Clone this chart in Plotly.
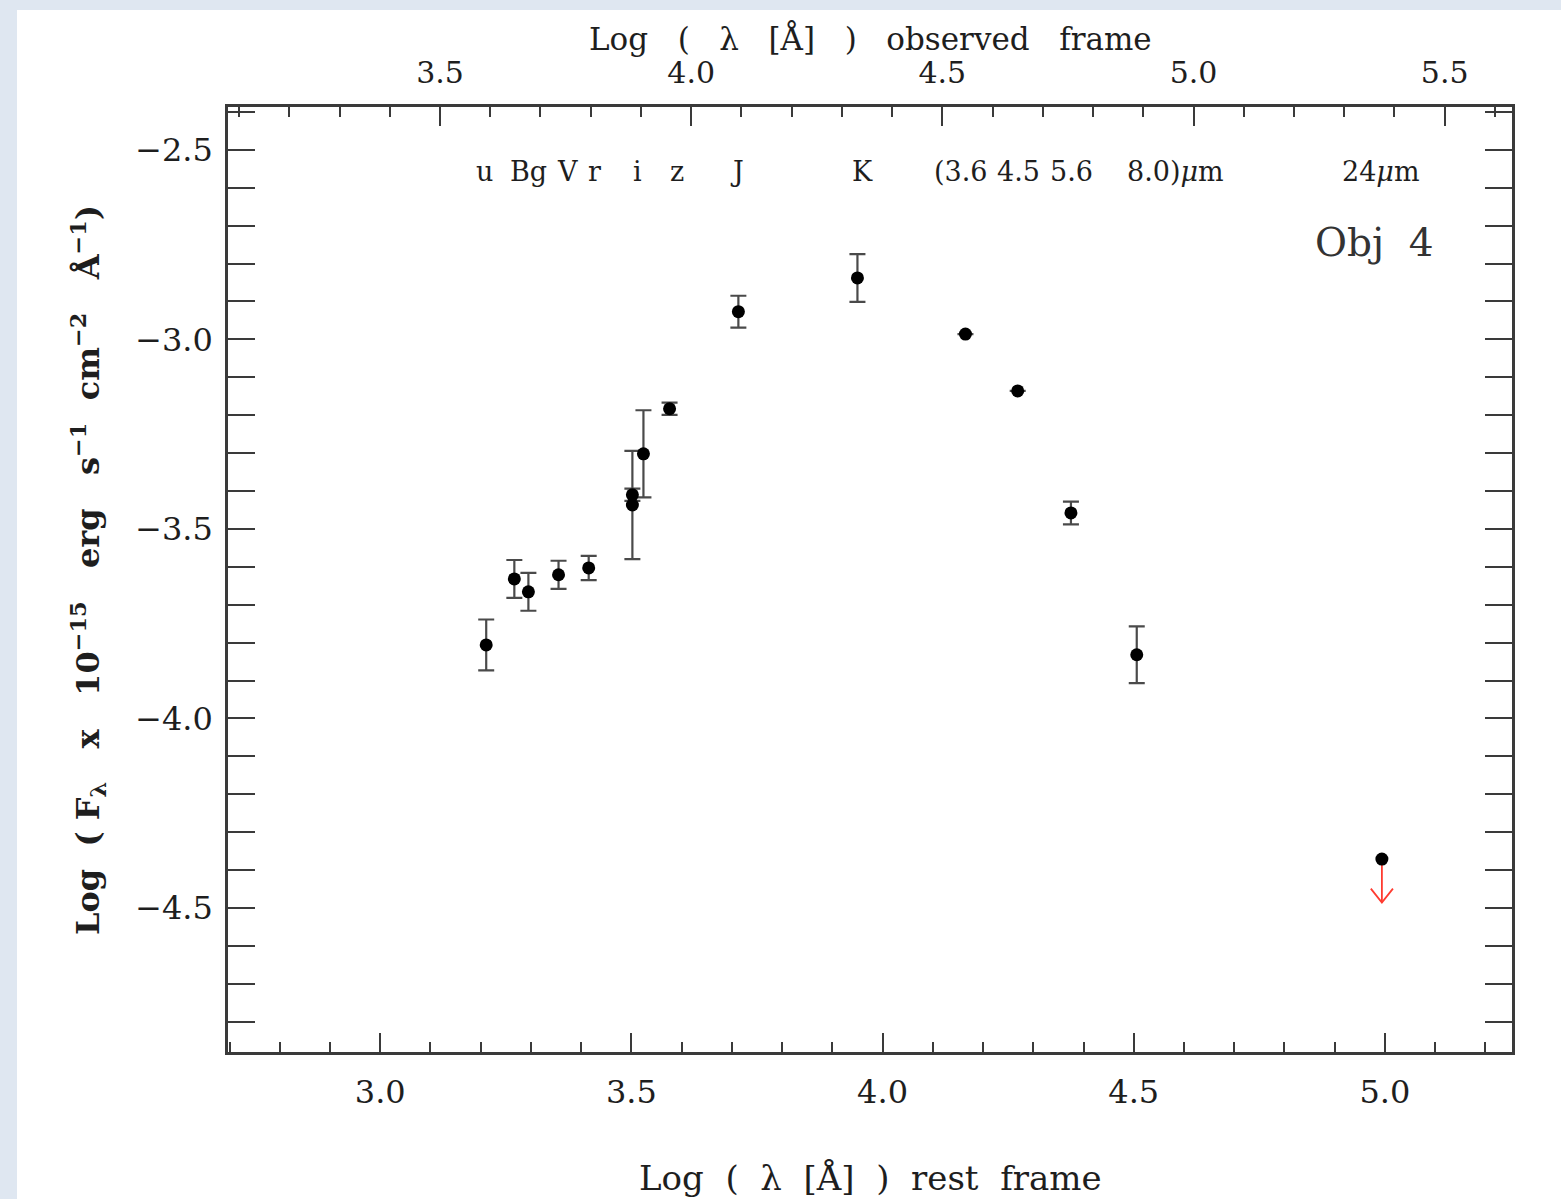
import plotly.graph_objects as go

# ---------------- data ----------------
log_lam_rest = [3.211, 3.267, 3.295, 3.355, 3.415, 3.502, 3.502, 3.524, 3.576,
                3.713, 3.950, 4.165, 4.269, 4.375, 4.506]
log_flux = [-3.806, -3.632, -3.666, -3.621, -3.603, -3.410, -3.437, -3.302, -3.183,
            -2.927, -2.838, -2.986, -3.136, -3.458, -3.832]
log_flux_err = [0.067, 0.050, 0.050, 0.037, 0.032, 0.016, 0.143, 0.115, 0.016,
                0.042, 0.063, 0.0, 0.0, 0.030, 0.075]

# 24 micron upper limit
ul_x = [4.994]
ul_y = [-4.371]
ul_len = 0.115          # length of the limit arrow (dex)

band_names = ["u", "Bg", "V", "r", "i", "z", "J", "K",
              "(3.6", "4.5", "5.6", "8.0)<i>μ</i>m", "24<i>μ</i>m"]
band_pos = [3.207, 3.295, 3.373, 3.426, 3.512, 3.590, 3.711, 3.960,
            4.155, 4.270, 4.376, 4.584, 4.992]

obs_offset = 0.381      # log10(1+z)
x_range = [2.697, 5.253]
y_range = [-4.880, -2.387]
object_label = "Obj  4"

# ---------------- figure ----------------
FONT = "DejaVu Serif"
INK = "#1e1e1e"
AX = "#3a3a3a"
nb = "\u00a0"

fig = go.Figure()

fig.add_trace(go.Scatter(
    x=log_lam_rest, y=log_flux, mode="markers",
    marker=dict(color="#000000", size=13, line=dict(width=0)),
    error_y=dict(type="data", array=log_flux_err, symmetric=True,
                 color="#4a4a4a", thickness=2.2, width=8),
    showlegend=False, hoverinfo="x+y"))

# invisible trace to anchor the observed-frame axis
fig.add_trace(go.Scatter(
    x=[v + obs_offset for v in log_lam_rest], y=log_flux, xaxis="x2",
    mode="markers", marker=dict(opacity=0), showlegend=False, hoverinfo="skip"))

# upper limit: arrow computed from the data value
head = [y - ul_len for y in ul_y]
arm_dx, arm_dy = 0.022, 0.037
arrow_x, arrow_y = [], []
for x0, y0, yh in zip(ul_x, ul_y, head):
    arrow_x += [x0, x0, None, x0 - arm_dx, x0, x0 + arm_dx, None]
    arrow_y += [y0, yh, None, yh + arm_dy, yh, yh + arm_dy, None]
fig.add_trace(go.Scatter(x=arrow_x, y=arrow_y, mode="lines",
                         line=dict(color="#ff3b30", width=1.8),
                         showlegend=False, hoverinfo="skip"))
fig.add_trace(go.Scatter(x=ul_x, y=ul_y, mode="markers",
                         marker=dict(color="#000000", size=13),
                         showlegend=False, hoverinfo="x+y"))

# band labels
for name, xp in zip(band_names, band_pos):
    fig.add_annotation(x=xp, y=-2.558, xref="x", yref="y", text=name,
                       showarrow=False, xanchor="center", yanchor="middle",
                       font=dict(family=FONT, size=27, color=INK))

fig.add_annotation(x=0.893, y=0.857, xref="paper", yref="paper",
                   text=object_label.replace(" ", nb),
                   showarrow=False, xanchor="center", yanchor="middle",
                   font=dict(family=FONT, size=39, color="#333333"))

# axis titles
def spaced(s, n=2):
    return s.replace(" ", nb * n)

fig.add_annotation(x=0.5, y=(1052 - 1178) / 945, xref="paper", yref="paper",
                   text=spaced("Log ( λ [Å] ) rest frame"), showarrow=False,
                   xanchor="center", yanchor="middle",
                   font=dict(family=FONT, size=34, color=INK))
fig.add_annotation(x=0.5, y=(1052 - 38) / 945, xref="paper", yref="paper",
                   text=spaced("Log ( λ [Å] ) observed frame", 3), showarrow=False,
                   xanchor="center", yanchor="middle",
                   font=dict(family=FONT, size=31, color=INK))
sp = nb * 3
ytitle = (f"<b>Log{nb}{nb}( F<sub>λ</sub>{sp}x{sp}10<sup>−15</sup>{sp}erg{sp}"
          f"s<sup>−1</sup>{nb}{nb}cm<sup>−2</sup>{sp}Å<sup>−1</sup>)</b>")
fig.add_annotation(x=(88 - 228) / 1284, y=(1052 - 570) / 945, xref="paper", yref="paper",
                   text=ytitle, showarrow=False, textangle=-90,
                   xanchor="center", yanchor="middle",
                   font=dict(family=FONT, size=32, color=INK))

# background: light blue page with white panel
fig.add_shape(type="rect", xref="paper", yref="paper",
              x0=(17 - 228) / 1284, x1=1.2, y0=-0.3, y1=(1052 - 10) / 945,
              fillcolor="white", line=dict(width=0), layer="below")

common = dict(ticks="inside", tickcolor=AX, tickwidth=2, showgrid=False,
              zeroline=False, linecolor=AX, linewidth=2.5)

fig.update_layout(
    width=1561, height=1199, autosize=False,
    margin=dict(l=228, r=49, t=107, b=147),
    paper_bgcolor="#dfe7f1", plot_bgcolor="white",
    xaxis=dict(range=x_range, dtick=0.5, tick0=0, ticklen=19, mirror=True,
               showline=True, tickformat=".1f", ticklabelstandoff=10,
               tickfont=dict(family=FONT, size=32, color=INK),
               minor=dict(ticks="inside", dtick=0.1, tick0=0, ticklen=10,
                          tickcolor=AX, tickwidth=2),
               **common),
    xaxis2=dict(range=[x_range[0] + obs_offset, x_range[1] + obs_offset],
                overlaying="x", side="top", dtick=0.5, tick0=0, ticklen=19,
                showline=False, tickformat=".1f", ticklabelstandoff=17,
                tickfont=dict(family=FONT, size=30, color=INK),
                minor=dict(ticks="inside", dtick=0.1, tick0=0, ticklen=10,
                           tickcolor=AX, tickwidth=2),
                **common),
    yaxis=dict(range=y_range, dtick=0.5, tick0=0, ticklen=27, mirror="allticks",
               showline=True, tickformat=".1f", ticklabelstandoff=6,
               tickfont=dict(family=FONT, size=32, color=INK),
               minor=dict(ticks="inside", dtick=0.1, tick0=0, ticklen=13,
                          tickcolor=AX, tickwidth=2),
               **common),
    showlegend=False,
)

fig.write_html("out.html", config={"displayModeBar": False},
               post_script="document.body.style.margin='0';document.body.style.overflow='hidden';")
